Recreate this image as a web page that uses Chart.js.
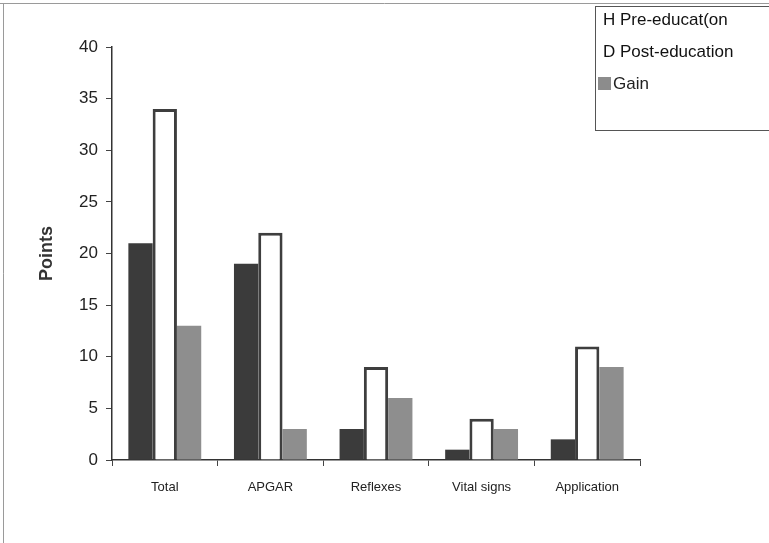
<!DOCTYPE html>
<html>
<head>
<meta charset="utf-8">
<script src="https://cdn.jsdelivr.net/npm/chart.js@4/dist/chart.umd.min.js"></script>
<style>
  body { margin: 0; background: #fff; }
  #wrap { width: 769px; height: 543px; }
</style>
</head>
<body>
<div id="wrap"><canvas id="chart" width="769" height="543"></canvas></div>
<script>
var categories = ["Total", "APGAR", "Reflexes", "Vital signs", "Application"];
var seriesNames = ["H Pre-educat(on", "D Post-education", "Gain"];
var preEducation = [21, 19, 3, 1, 2];
var postEducation = [34, 22, 9, 4, 11];
var gain = [13, 3, 6, 3, 9];
var yTicks = [0, 5, 10, 15, 20, 25, 30, 35, 40];

// box of legend + frame of the scan, drawn on top
var paperPlugin = {
  id: 'paper',
  afterDraw: function(chart) {
    var ctx = chart.ctx;
    ctx.save();
    // scan frame
    ctx.strokeStyle = '#9a9a9a';
    ctx.lineWidth = 1;
    ctx.beginPath();
    ctx.moveTo(0, 3.5); ctx.lineTo(769, 3.5);
    ctx.moveTo(3.5, 3.5); ctx.lineTo(3.5, 543);
    ctx.stroke();

    // legend
    ctx.strokeStyle = '#555';
    ctx.strokeRect(595.5, 6.5, 180, 124);
    ctx.font = '17px "Liberation Sans", Arial, sans-serif';
    ctx.fillStyle = '#111';
    ctx.textBaseline = 'middle';
    ctx.fillText(seriesNames[0], 603, 20);
    ctx.fillText(seriesNames[1], 603, 52);
    ctx.fillStyle = '#8c8c8c';
    ctx.fillRect(598, 77, 13, 13);
    ctx.fillStyle = '#222';
    ctx.fillText(seriesNames[2], 613, 84);
    ctx.restore();
  }
};

var ctx = document.getElementById('chart');
var chart = new Chart(ctx, {
  type: 'bar',
  data: {
    labels: categories,
    datasets: [
      {
        label: seriesNames[0],
        data: preEducation,
        backgroundColor: '#3b3b3b',
        borderWidth: 0,
        categoryPercentage: 0.69,
        barPercentage: 1
      },
      {
        label: seriesNames[1],
        data: postEducation,
        backgroundColor: '#ffffff',
        borderColor: '#3e3e3e',
        borderWidth: 3,
        categoryPercentage: 0.69,
        barPercentage: 1
      },
      {
        label: seriesNames[2],
        data: gain,
        backgroundColor: '#8e8e8e',
        borderWidth: 0,
        categoryPercentage: 0.69,
        barPercentage: 1
      }
    ]
  },
  options: {
    responsive: false,
    animation: false,
    layout: { padding: { left: 0, top: 47, right: 129, bottom: 43 } },
    plugins: {
      legend: { display: false },
      tooltip: { enabled: false }
    },
    scales: {
      x: {
        offset: true,
        grid: {
          display: true,
          offset: true,
          drawOnChartArea: false,
          drawTicks: true,
          tickLength: 6,
          color: '#444'
        },
        border: { display: true, color: '#333', width: 1.5 },
        ticks: {
          color: '#222',
          padding: 14,
          font: { family: '"Liberation Sans", Arial, sans-serif', size: 13 }
        },
        afterFit: function(scale) { scale.height = 40; }
      },
      y: {
        min: 0,
        max: 40,
        afterBuildTicks: function(scale) {
          scale.ticks = yTicks.map(function(v) { return { value: v }; });
        },
        grid: {
          display: true,
          drawOnChartArea: false,
          drawTicks: true,
          tickLength: 6,
          color: '#444'
        },
        border: { display: true, color: '#333', width: 1.5 },
        ticks: {
          color: '#222',
          padding: 8,
          font: { family: '"Liberation Sans", Arial, sans-serif', size: 17 }
        },
        title: {
          display: true,
          text: 'Points',
          color: '#333',
          padding: { top: 36, bottom: 0 },
          font: { family: '"Liberation Sans", Arial, sans-serif', size: 18, weight: 'bold' }
        },
        afterFit: function(scale) { scale.width = 112; }
      }
    }
  },
  plugins: [paperPlugin]
});
</script>
</body>
</html>
